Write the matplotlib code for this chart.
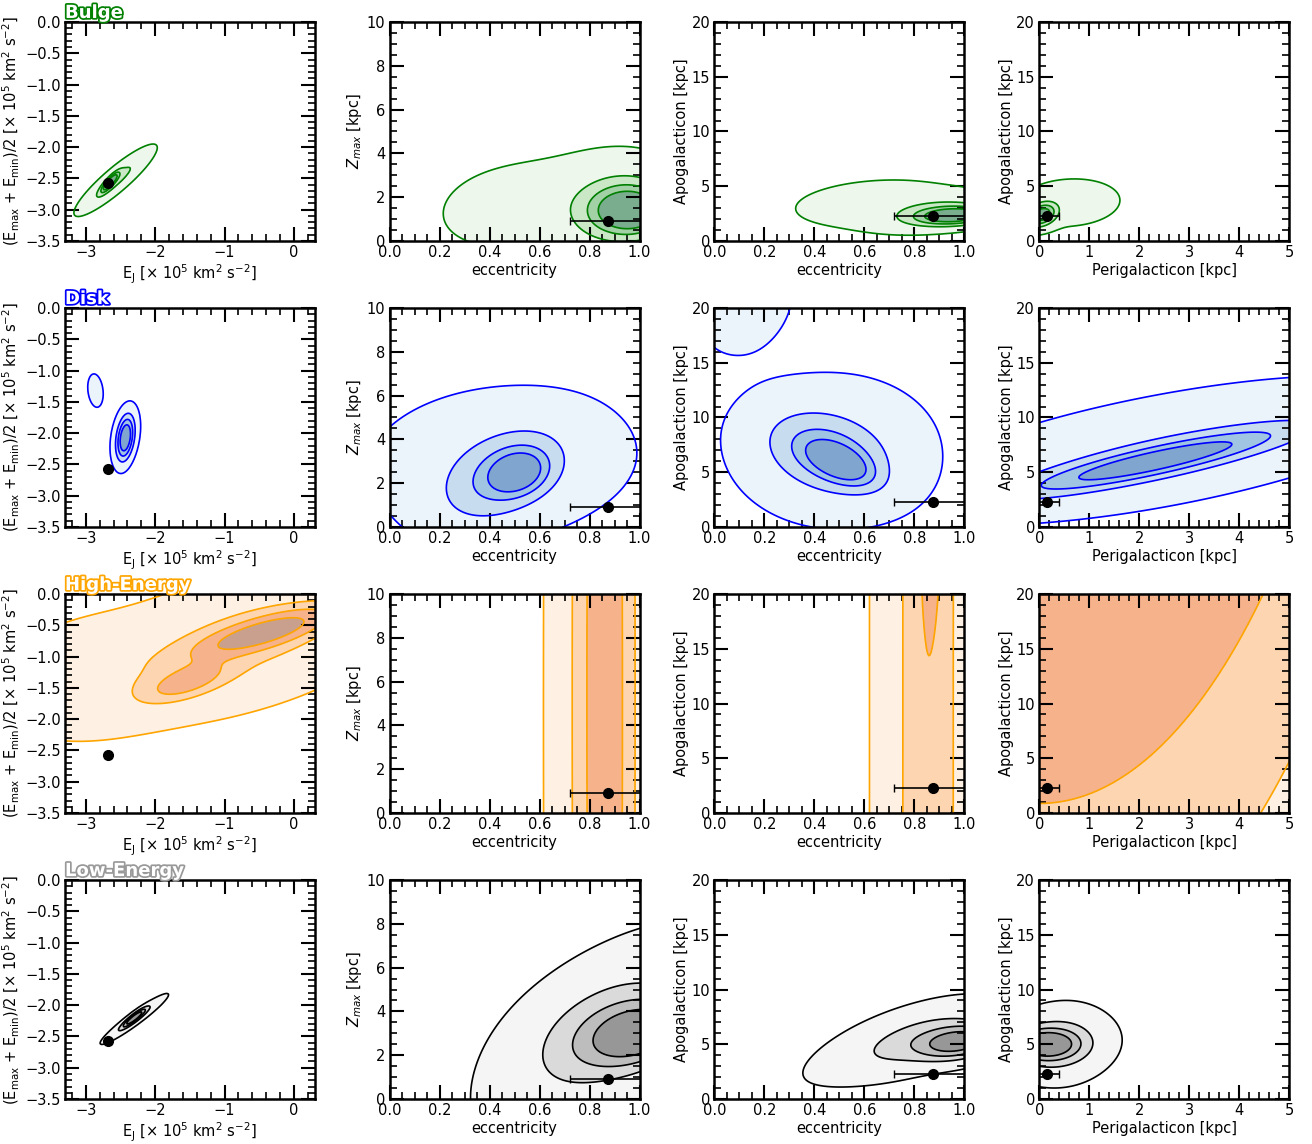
import numpy as np
import matplotlib
matplotlib.use('Agg')
import matplotlib.pyplot as plt
import matplotlib.patheffects as pe
from matplotlib.ticker import MultipleLocator, FuncFormatter

# the star (value, error) in each space
star_ej, star_ej_err = -2.68, 0.03
star_emean, star_emean_err = -2.58, 0.04
star_ecc, star_ecc_err = 0.875, 0.155
star_zmax, star_zmax_err = 0.9, 0.05
star_apo, star_apo_err = 2.3, 0.15
star_peri, star_peri_err = 0.15, 0.25

# density blobs: (x0, y0, sx, sy, rho, weight)
bulge_energy = [(-2.65, -2.56, 0.08, 0.10, 0.85, 1.0), (-2.57, -2.53, 0.28, 0.27, 0.9, 0.4)]
bulge_zmax = [(0.97, 1.35, 0.10, 0.75, 0.0, 1.0), (0.9, 1.5, 0.13, 1.1, 0.2, 0.35),
              (0.78, 2.0, 0.2, 1.45, 0.3, 0.1), (0.45, 1.6, 0.17, 1.2, 0.2, 0.1)]
bulge_apo = [(0.97, 2.3, 0.10, 0.55, 0.2, 1.0), (0.88, 2.6, 0.13, 0.9, 0.3, 0.35), (0.65, 3.4, 0.24, 1.6, 0.2, 0.10)]
bulge_peri = [(0.05, 2.4, 0.20, 0.7, 0.3, 1.0), (0.6, 3.5, 0.75, 1.6, 0.1, 0.10)]

disk_energy = [(-2.43, -2.08, 0.07, 0.20, 0.3, 1.0), (-2.43, -2.05, 0.105, 0.26, 0.3, 0.3), (-2.86, -1.32, 0.075, 0.18, -0.2, 0.12)]
disk_zmax = [(0.51, 2.5, 0.07, 0.6, 0.2, 1.0), (0.45, 2.3, 0.15, 1.3, 0.4, 0.45), (0.45, 3.0, 0.33, 2.1, 0.1, 0.15)]
disk_apo = [(0.5, 5.9, 0.08, 1.2, -0.5, 1.0), (0.45, 6.8, 0.15, 2.3, -0.3, 0.5), (0.48, 7.0, 0.26, 4.3, 0.0, 0.15),
            (0.13, 20.0, 0.15, 3.3, 0.3, 0.08)]
disk_peri = [(2.3, 6.0, 1.6, 1.8, 0.88, 1.0), (2.5, 7.0, 3.0, 3.8, 0.65, 0.2)]

high_energy = [(-0.45, -0.62, 0.55, 0.22, 0.75, 1.0), (-1.55, -1.4, 0.38, 0.2, 0.6, 0.45),
               (-0.7, -0.75, 1.2, 0.65, 0.5, 0.25), (-3.0, -1.35, 0.8, 0.55, 0.2, 0.12)]
high_zmax = [(0.865, 5.0, 0.075, 40.0, 0.0, 1.0), (0.74, 5.0, 0.10, 40.0, 0.0, 0.1)]
high_apo = [(0.855, 10.0, 0.065, 200.0, 0.0, 1.0), (0.87, 24.0, 0.028, 5.0, 0.0, 0.5)]
high_peri = [(0.0, 100.0, 2.42, 31.6, 0.0, 1.0)]

low_energy = [(-2.3, -2.2, 0.10, 0.09, 0.9, 1.0), (-2.3, -2.22, 0.23, 0.19, 0.95, 0.3)]
low_zmax = [(1.0, 3.0, 0.12, 0.85, 0.3, 1.0), (0.87, 3.0, 0.19, 1.6, 0.4, 0.4), (0.85, 3.0, 0.3, 3.0, 0.65, 0.12)]
low_apo = [(0.98, 5.2, 0.10, 0.95, 0.3, 1.0), (0.82, 5.4, 0.17, 1.8, 0.55, 0.3), (0.7, 5.0, 0.22, 2.3, 0.75, 0.08)]
low_peri = [(0.1, 5.0, 0.38, 0.8, 0.0, 1.0), (0.3, 5.0, 0.55, 1.5, 0.1, 0.45), (0.5, 5.0, 0.55, 2.3, 0.1, 0.08)]

# contour levels for each panel
lev_default = [0.04, 0.3, 0.55, 0.8]
lev_disk = [0.04, 0.25, 0.5, 0.8]
lev_high_energy = [0.03, 0.2, 0.4, 0.75]
lev_high_zmax = [0.05, 0.3, 0.69, 1.5]
lev_high_apo = [0.0015, 0.3, 1.07, 3.0]
lev_high_peri = [0.0003, 0.00125, 0.0073, 1.0]
lev_low = [0.03, 0.25, 0.5, 0.8]

names = ['Bulge', 'Disk', 'High-Energy', 'Low-Energy']
line_colors = ['green', 'blue', 'orange', 'black']
title_colors = ['green', 'blue', 'orange', '#999999']
fill_colors = [['#eef7ec', '#cae8c6', '#a3d1a6', '#79ad8e'],
               ['#ebf3fb', '#c8dcef', '#9fc5e3', '#80a6cf'],
               ['#fef0e2', '#fdd5b0', '#f6b28b', '#c9a08e'],
               ['#f5f5f5', '#dadada', '#bdbdbd', '#979797']]

panels = [[bulge_energy, bulge_zmax, bulge_apo, bulge_peri],
          [disk_energy, disk_zmax, disk_apo, disk_peri],
          [high_energy, high_zmax, high_apo, high_peri],
          [low_energy, low_zmax, low_apo, low_peri]]
levels = [[lev_default] * 4,
          [lev_disk] * 4,
          [lev_high_energy, lev_high_zmax, lev_high_apo, lev_high_peri],
          [lev_low] * 4]

# per column: xlim, ylim, x major/minor, y major/minor, xlabel, ylabel
energy_unit = r'[$\times$ 10$^5$ km$^2$ s$^{-2}$]'
columns = [
    ((-3.3, 0.3), (-3.5, 0.0), 1, 0.2, 0.5, 0.1, r'E$_{\rm J}$ ' + energy_unit,
     r'(E$_{\rm max}$ + E$_{\rm min}$)/2 ' + energy_unit),
    ((0, 1), (0, 10), 0.2, 0.05, 2, 0.5, 'eccentricity', r'$Z_{max}$ [kpc]'),
    ((0, 1), (0, 20), 0.2, 0.05, 5, 1, 'eccentricity', 'Apogalacticon [kpc]'),
    ((0, 5), (0, 20), 1, 0.2, 5, 1, 'Perigalacticon [kpc]', 'Apogalacticon [kpc]'),
]
star_x = [(star_ej, star_ej_err), (star_ecc, star_ecc_err), (star_ecc, star_ecc_err), (star_peri, star_peri_err)]
star_y = [(star_emean, star_emean_err), (star_zmax, star_zmax_err), (star_apo, star_apo_err), (star_apo, star_apo_err)]


def density(comps, X, Y):
    Z = np.zeros_like(X)
    for x0, y0, sx, sy, rho, w in comps:
        dx = (X - x0) / sx
        dy = (Y - y0) / sy
        q = (dx**2 - 2 * rho * dx * dy + dy**2) / (1 - rho**2)
        Z += w * np.exp(-q / 2)
    return Z


def fmt(decimals):
    return FuncFormatter(lambda v, p: f'{v:.{decimals}f}'.replace('-', '\u2212'))


fig, axes = plt.subplots(4, 4, figsize=(13.12, 11.44), dpi=100)
fig.subplots_adjust(left=0.0495, right=0.9825, top=0.9808, bottom=0.0393, wspace=0.3, hspace=0.306)

for i in range(4):
    for j in range(4):
        ax = axes[i, j]
        xlim, ylim, xmaj, xmin, ymaj, ymin, xlabel, ylabel = columns[j]
        dxr = xlim[1] - xlim[0]
        dyr = ylim[1] - ylim[0]
        gx = np.linspace(xlim[0] - 0.2 * dxr, xlim[1] + 0.2 * dxr, 300)
        gy = np.linspace(ylim[0] - 0.2 * dyr, ylim[1] + 0.2 * dyr, 300)
        X, Y = np.meshgrid(gx, gy)
        Z = density(panels[i][j], X, Y)
        lev = list(levels[i][j])
        top = max(Z.max(), lev[-1]) * 1.01 + 1
        ax.contourf(X, Y, Z, levels=lev + [top], colors=fill_colors[i])
        ax.contour(X, Y, Z, levels=lev, colors=line_colors[i], linewidths=1.2)

        ax.errorbar(star_x[j][0], star_y[j][0], xerr=star_x[j][1], yerr=star_y[j][1],
                    fmt='o', color='k', ms=7, capsize=3, elinewidth=1.2, zorder=5)

        ax.set_xlim(xlim)
        ax.set_ylim(ylim)
        ax.xaxis.set_major_locator(MultipleLocator(xmaj))
        ax.xaxis.set_minor_locator(MultipleLocator(xmin))
        ax.yaxis.set_major_locator(MultipleLocator(ymaj))
        ax.yaxis.set_minor_locator(MultipleLocator(ymin))
        if j == 0:
            ax.xaxis.set_major_formatter(fmt(0))
            ax.yaxis.set_major_formatter(fmt(1))
        elif j in (1, 2):
            ax.xaxis.set_major_formatter(fmt(1))
        ax.tick_params(which='both', direction='in', top=True, right=True, labelsize=10.5, pad=3)
        ax.tick_params(which='major', length=10, width=1.5)
        ax.tick_params(which='minor', length=5, width=1.2)
        for s in ax.spines.values():
            s.set_linewidth(1.8)
        ax.set_xlabel(xlabel, fontsize=10.5, labelpad=2)
        ax.set_ylabel(ylabel, fontsize=10.5, labelpad=2)

    axes[i, 0].text(0.0, 1.0, names[i], transform=axes[i, 0].transAxes, ha='left', va='bottom',
                    fontsize=13, fontweight='bold', color='white',
                    path_effects=[pe.withStroke(linewidth=2.5, foreground=title_colors[i])])

plt.savefig('out.png', dpi=100)
